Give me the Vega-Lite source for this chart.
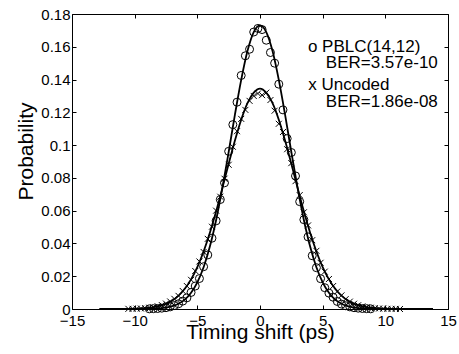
{
  "$schema": "https://vega.github.io/schema/vega-lite/v6.json",
  "width": 376,
  "height": 295,
  "autosize": {"type": "none"},
  "padding": {"left": 72, "top": 14, "right": 11, "bottom": 45},
  "background": "white",
  "config": {
    "view": {"stroke": null},
    "font": "Liberation Sans",
    "axis": {
      "domainColor": "black",
      "domainWidth": 1,
      "tickColor": "black",
      "tickWidth": 1,
      "tickSize": -4,
      "labelColor": "black",
      "titleColor": "black",
      "labelFontSize": 15,
      "titleFontSize": 21,
      "titleFontWeight": "normal",
      "grid": false
    }
  },
  "datasets": {
    "pblcFit": [
      {"t": -12.8, "p": 0}, {"t": -12, "p": 0}, {"t": -11, "p": 0}, {"t": -10, "p": 0.00001},
      {"t": -9, "p": 0.0001}, {"t": -8.5, "p": 0.0002}, {"t": -8, "p": 0.0004}, {"t": -7.5, "p": 0.0008},
      {"t": -7, "p": 0.0017}, {"t": -6.5, "p": 0.0032}, {"t": -6, "p": 0.0057}, {"t": -5.5, "p": 0.0099},
      {"t": -5, "p": 0.0163}, {"t": -4.5, "p": 0.0255}, {"t": -4, "p": 0.0381}, {"t": -3.5, "p": 0.0543},
      {"t": -3, "p": 0.0739}, {"t": -2.5, "p": 0.0958}, {"t": -2, "p": 0.1186}, {"t": -1.5, "p": 0.1398},
      {"t": -1, "p": 0.1574}, {"t": -0.5, "p": 0.1690}, {"t": 0, "p": 0.1730}, {"t": 0.5, "p": 0.1690},
      {"t": 1, "p": 0.1574}, {"t": 1.5, "p": 0.1398}, {"t": 2, "p": 0.1186}, {"t": 2.5, "p": 0.0958},
      {"t": 3, "p": 0.0739}, {"t": 3.5, "p": 0.0543}, {"t": 4, "p": 0.0381}, {"t": 4.5, "p": 0.0255},
      {"t": 5, "p": 0.0163}, {"t": 5.5, "p": 0.0099}, {"t": 6, "p": 0.0057}, {"t": 6.5, "p": 0.0032},
      {"t": 7, "p": 0.0017}, {"t": 7.5, "p": 0.0008}, {"t": 8, "p": 0.0004}, {"t": 8.5, "p": 0.0002},
      {"t": 9, "p": 0.0001}, {"t": 10, "p": 0.00001}, {"t": 11, "p": 0}, {"t": 12, "p": 0}, {"t": 13, "p": 0}, {"t": 13.8, "p": 0}
    ],
    "uncodedFit": [
      {"t": -12.8, "p": 0}, {"t": -12, "p": 0.00001}, {"t": -11, "p": 0.00005}, {"t": -10, "p": 0.0002},
      {"t": -9, "p": 0.0006}, {"t": -8.5, "p": 0.0011}, {"t": -8, "p": 0.0019}, {"t": -7.5, "p": 0.0033},
      {"t": -7, "p": 0.0052}, {"t": -6.5, "p": 0.0082}, {"t": -6, "p": 0.0124}, {"t": -5.5, "p": 0.0181},
      {"t": -5, "p": 0.0256}, {"t": -4.5, "p": 0.0351}, {"t": -4, "p": 0.0465}, {"t": -3.5, "p": 0.0596},
      {"t": -3, "p": 0.0739}, {"t": -2.5, "p": 0.0886}, {"t": -2, "p": 0.1028}, {"t": -1.5, "p": 0.1155},
      {"t": -1, "p": 0.1256}, {"t": -0.5, "p": 0.1320}, {"t": 0, "p": 0.1345}, {"t": 0.5, "p": 0.1320},
      {"t": 1, "p": 0.1256}, {"t": 1.5, "p": 0.1155}, {"t": 2, "p": 0.1028}, {"t": 2.5, "p": 0.0886},
      {"t": 3, "p": 0.0739}, {"t": 3.5, "p": 0.0596}, {"t": 4, "p": 0.0465}, {"t": 4.5, "p": 0.0351},
      {"t": 5, "p": 0.0256}, {"t": 5.5, "p": 0.0181}, {"t": 6, "p": 0.0124}, {"t": 6.5, "p": 0.0082},
      {"t": 7, "p": 0.0052}, {"t": 7.5, "p": 0.0033}, {"t": 8, "p": 0.0019}, {"t": 8.5, "p": 0.0011},
      {"t": 9, "p": 0.0006}, {"t": 10, "p": 0.0002}, {"t": 11, "p": 0.00005}, {"t": 12, "p": 0.00001}, {"t": 13, "p": 0}, {"t": 13.8, "p": 0}
    ],
    "pblc": [
      {"t": -8.833, "p": 0.0001}, {"t": -8.5, "p": 0.0002}, {"t": -8.167, "p": 0.0003}, {"t": -7.833, "p": 0.0005},
      {"t": -7.5, "p": 0.0008}, {"t": -7.167, "p": 0.0013}, {"t": -6.833, "p": 0.0021}, {"t": -6.5, "p": 0.0032},
      {"t": -6.167, "p": 0.0048}, {"t": -5.833, "p": 0.0068}, {"t": -5.5, "p": 0.0101}, {"t": -5.167, "p": 0.0140},
      {"t": -4.833, "p": 0.0186}, {"t": -4.5, "p": 0.0258}, {"t": -4.167, "p": 0.0330}, {"t": -3.833, "p": 0.0432},
      {"t": -3.5, "p": 0.0538}, {"t": -3.167, "p": 0.0668}, {"t": -2.833, "p": 0.0770}, {"t": -2.5, "p": 0.0962},
      {"t": -2.167, "p": 0.1125}, {"t": -1.833, "p": 0.1262}, {"t": -1.5, "p": 0.1425}, {"t": -1.167, "p": 0.1545},
      {"t": -0.833, "p": 0.1585}, {"t": -0.5, "p": 0.1690}, {"t": -0.167, "p": 0.1712}, {"t": 0.167, "p": 0.1705},
      {"t": 0.5, "p": 0.1640}, {"t": 0.833, "p": 0.1565}, {"t": 1.167, "p": 0.1500}, {"t": 1.5, "p": 0.1372},
      {"t": 1.833, "p": 0.1215}, {"t": 2.167, "p": 0.1040}, {"t": 2.5, "p": 0.0955}, {"t": 2.833, "p": 0.0812},
      {"t": 3.167, "p": 0.0655}, {"t": 3.5, "p": 0.0545}, {"t": 3.833, "p": 0.0440}, {"t": 4.167, "p": 0.0325},
      {"t": 4.5, "p": 0.0252}, {"t": 4.833, "p": 0.0185}, {"t": 5.167, "p": 0.0130}, {"t": 5.5, "p": 0.0097},
      {"t": 5.833, "p": 0.0072}, {"t": 6.167, "p": 0.0046}, {"t": 6.5, "p": 0.0030}, {"t": 6.833, "p": 0.0020},
      {"t": 7.167, "p": 0.0013}, {"t": 7.5, "p": 0.0008}, {"t": 7.833, "p": 0.0005}, {"t": 8.167, "p": 0.0003},
      {"t": 8.5, "p": 0.0002}, {"t": 8.833, "p": 0.0001}
    ],
    "uncoded": [
      {"t": -10.5, "p": 0.0001}, {"t": -10.167, "p": 0.0001}, {"t": -9.833, "p": 0.0002}, {"t": -9.5, "p": 0.0003},
      {"t": -9.167, "p": 0.0005}, {"t": -8.833, "p": 0.0008}, {"t": -8.5, "p": 0.0011}, {"t": -8.167, "p": 0.0017},
      {"t": -7.833, "p": 0.0024}, {"t": -7.5, "p": 0.0033}, {"t": -7.167, "p": 0.0046}, {"t": -6.833, "p": 0.0062},
      {"t": -6.5, "p": 0.0080}, {"t": -6.167, "p": 0.0110}, {"t": -5.833, "p": 0.0140}, {"t": -5.5, "p": 0.0178},
      {"t": -5.167, "p": 0.0232}, {"t": -4.833, "p": 0.0290}, {"t": -4.5, "p": 0.0348}, {"t": -4.167, "p": 0.0428},
      {"t": -3.833, "p": 0.0502}, {"t": -3.5, "p": 0.0600}, {"t": -3.167, "p": 0.0685}, {"t": -2.833, "p": 0.0795},
      {"t": -2.5, "p": 0.0880}, {"t": -2.167, "p": 0.0990}, {"t": -1.833, "p": 0.1085}, {"t": -1.5, "p": 0.1160},
      {"t": -1.167, "p": 0.1215}, {"t": -0.833, "p": 0.1270}, {"t": -0.5, "p": 0.1300}, {"t": -0.167, "p": 0.1315},
      {"t": 0.167, "p": 0.1305}, {"t": 0.5, "p": 0.1320}, {"t": 0.833, "p": 0.1275}, {"t": 1.167, "p": 0.1210},
      {"t": 1.5, "p": 0.1130}, {"t": 1.833, "p": 0.1080}, {"t": 2.167, "p": 0.0975}, {"t": 2.5, "p": 0.0890},
      {"t": 2.833, "p": 0.0780}, {"t": 3.167, "p": 0.0695}, {"t": 3.5, "p": 0.0590}, {"t": 3.833, "p": 0.0510},
      {"t": 4.167, "p": 0.0420}, {"t": 4.5, "p": 0.0355}, {"t": 4.833, "p": 0.0282}, {"t": 5.167, "p": 0.0228},
      {"t": 5.5, "p": 0.0183}, {"t": 5.833, "p": 0.0140}, {"t": 6.167, "p": 0.0107}, {"t": 6.5, "p": 0.0083},
      {"t": 6.833, "p": 0.0060}, {"t": 7.167, "p": 0.0045}, {"t": 7.5, "p": 0.0032}, {"t": 7.833, "p": 0.0023},
      {"t": 8.167, "p": 0.0016}, {"t": 8.5, "p": 0.0011}, {"t": 8.833, "p": 0.0008}, {"t": 9.167, "p": 0.0005},
      {"t": 9.5, "p": 0.0003}, {"t": 9.833, "p": 0.0002}, {"t": 10.167, "p": 0.0001}, {"t": 10.5, "p": 0.0001},
      {"t": 10.833, "p": 0.0001}, {"t": 11.167, "p": 0}
    ],
    "notes": [
      {"t": 3.82, "p": 0.1568, "label": "o PBLC(14,12)"},
      {"t": 5.25, "p": 0.1471, "label": "BER=3.57e-10"},
      {"t": 3.85, "p": 0.1336, "label": "x Uncoded"},
      {"t": 5.25, "p": 0.1233, "label": "BER=1.86e-08"}
    ]
  },
  "layer": [
    {
      "data": {"name": "pblcFit"},
      "mark": {"type": "line", "color": "black", "strokeWidth": 1.8, "interpolate": "monotone"},
      "encoding": {
        "x": {
          "field": "t", "type": "quantitative",
          "scale": {"domain": [-15, 15], "nice": false, "zero": false},
          "axis": {
            "orient": "bottom",
            "values": [-15, -10, -5, 0, 5, 10, 15],
            "format": "d",
            "title": "Timing shift (ps)",
            "titleY": 29,
            "titleBaseline": "alphabetic",
            "labelPadding": 8,
            "labelFlush": false,
            "labelOverlap": false,
            "encode": {"labels": {"update": {"dx": {"signal": "datum.value < 0 ? -4 : (datum.value == 15 ? -7 : 0)"}}}}
          }
        },
        "y": {
          "field": "p", "type": "quantitative",
          "scale": {"domain": [0, 0.18], "nice": false},
          "axis": {
            "orient": "left",
            "values": [0, 0.02, 0.04, 0.06, 0.08, 0.1, 0.12, 0.14, 0.16, 0.18],
            "format": ".2~f",
            "title": "Probability",
            "titleAngle": 270,
            "titleX": -40,
            "titleY": 137,
            "titleAlign": "center",
            "titleBaseline": "alphabetic",
            "labelPadding": 6,
            "labelFlush": false,
            "labelOverlap": false
          }
        }
      }
    },
    {
      "data": {"name": "uncodedFit"},
      "mark": {"type": "line", "color": "black", "strokeWidth": 1.8, "interpolate": "monotone"},
      "encoding": {
        "x": {
          "field": "t", "type": "quantitative",
          "scale": {"domain": [-15, 15], "nice": false, "zero": false},
          "axis": {"orient": "top", "values": [-15, -10, -5, 0, 5, 10, 15], "labels": false, "title": null}
        },
        "y": {
          "field": "p", "type": "quantitative",
          "scale": {"domain": [0, 0.18], "nice": false},
          "axis": {"orient": "right", "values": [0, 0.02, 0.04, 0.06, 0.08, 0.1, 0.12, 0.14, 0.16, 0.18], "labels": false, "title": null}
        }
      }
    },
    {
      "data": {"name": "pblc"},
      "mark": {"type": "point", "shape": "circle", "filled": false, "stroke": "black", "strokeWidth": 1, "size": 64, "opacity": 1},
      "encoding": {
        "x": {"field": "t", "type": "quantitative", "axis": null},
        "y": {"field": "p", "type": "quantitative", "axis": null}
      }
    },
    {
      "data": {"name": "uncoded"},
      "mark": {"type": "point", "shape": "M-1,-1L1,1M-1,1L1,-1", "filled": false, "stroke": "black", "strokeWidth": 1, "size": 36, "opacity": 1},
      "encoding": {
        "x": {"field": "t", "type": "quantitative", "axis": null},
        "y": {"field": "p", "type": "quantitative", "axis": null}
      }
    },
    {
      "data": {"name": "notes"},
      "mark": {"type": "text", "align": "left", "baseline": "alphabetic", "fontSize": 17, "color": "black", "font": "Liberation Sans"},
      "encoding": {
        "x": {"field": "t", "type": "quantitative", "axis": null},
        "y": {"field": "p", "type": "quantitative", "axis": null},
        "text": {"field": "label"}
      }
    }
  ],
  "resolve": {"axis": {"x": "independent", "y": "independent"}}
}
